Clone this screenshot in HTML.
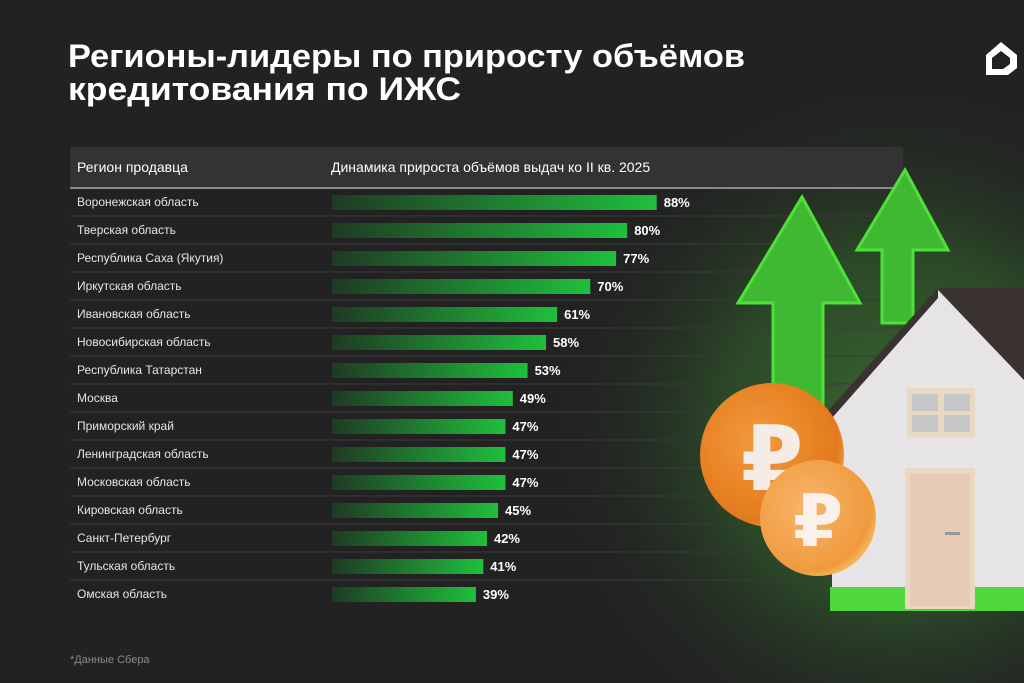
<!DOCTYPE html>
<html><head><meta charset="utf-8"><style>
html,body{margin:0;padding:0;background:#222;}
svg{display:block;font-family:"Liberation Sans","DejaVu Sans",sans-serif;}
</style></head><body>
<svg id="chart" width="1024" height="683" viewBox="0 0 1024 683" xmlns="http://www.w3.org/2000/svg">
<defs>
<radialGradient id="glow" cx="900" cy="430" r="360" gradientUnits="userSpaceOnUse">
<stop offset="0" stop-color="#3a6632"/><stop offset="0.5" stop-color="#2b4727"/><stop offset="1" stop-color="#222" stop-opacity="0"/>
</radialGradient>
<linearGradient id="barg" x1="0" x2="1" y1="0" y2="0">
<stop offset="0" stop-color="#1f3a24"/><stop offset="1" stop-color="#1fbf3c"/>
</linearGradient>
<radialGradient id="coin1" cx="0.4" cy="0.4" r="0.7"><stop offset="0" stop-color="#f39a3c"/><stop offset="0.8" stop-color="#e27a1c"/><stop offset="1" stop-color="#f6c45a"/></radialGradient>
<radialGradient id="coin2" cx="0.4" cy="0.4" r="0.7"><stop offset="0" stop-color="#f7b56a"/><stop offset="0.8" stop-color="#f09a3e"/><stop offset="1" stop-color="#f8d27a"/></radialGradient>
</defs>
<rect width="1024" height="683" fill="#222"/>
<rect width="1024" height="683" fill="url(#glow)"/>
<text x="68" y="67" font-size="32" font-weight="bold" fill="#fff" textLength="677" lengthAdjust="spacingAndGlyphs">Регионы-лидеры по приросту объёмов</text>
<text x="68" y="100" font-size="32" font-weight="bold" fill="#fff" textLength="393" lengthAdjust="spacingAndGlyphs">кредитования по ИЖС</text>
<g>
<path d="M1001 42 L1017 55 L1017 68 L1008 75 L986 75 L986 55 Z" fill="#fff"/>
<path d="M992 58 L1001 51 L1010 58 L1010 64 L1003 69 L992 69 Z" fill="#222"/>
</g>
<rect x="70" y="147" width="833" height="41" fill="#333"/>
<line x1="70" y1="188" x2="903" y2="188" stroke="#8a8a8a" stroke-width="2"/>
<text x="77" y="172" font-size="14" fill="#fff">Регион продавца</text>
<text x="331" y="172" font-size="14" fill="#fff">Динамика прироста объёмов выдач ко II кв. 2025</text>
<g id="rows"></g>
<g>
<path d="M905 170 L948 250 L913 250 L913 323 L882 323 L882 250 L857 250 Z" fill="#3fb832" stroke="#4fe03a" stroke-width="3"/>
<path d="M802 197 L860 303 L823 303 L823 420 L773 420 L773 303 L738 303 Z" fill="#3fb832" stroke="#4fe03a" stroke-width="3"/>
<path d="M938 288 L1024 288 L1024 385 Z" fill="#3a3230"/>
<path d="M938 290 L1024 380 L1024 610 L832 610 L832 413 Z" fill="#e6e4e4"/>
<path d="M938 288 L826 413 L832 418 L938 298 Z" fill="#3a3230"/>
<rect x="830" y="587" width="194" height="24" fill="#4fd83e"/>
<rect x="907" y="388" width="68" height="49" fill="#e8d8c4"/>
<rect x="912" y="394" width="26" height="17" fill="#c4c6c8"/><rect x="944" y="394" width="26" height="17" fill="#c4c6c8"/>
<rect x="912" y="415" width="26" height="17" fill="#c4c6c8"/><rect x="944" y="415" width="26" height="17" fill="#c4c6c8"/>
<rect x="905" y="468" width="70" height="141" fill="#e8d8c4"/>
<rect x="910" y="474" width="60" height="132" fill="#e6ccb6"/>
<rect x="945" y="532" width="15" height="3" fill="#999"/>
<circle cx="772" cy="455" r="72" fill="url(#coin1)"/>
<text x="772" y="490" font-size="90" font-weight="bold" fill="#f4ece6" text-anchor="middle">₽</text>
<circle cx="818" cy="518" r="58" fill="url(#coin2)"/>
<text x="818" y="546" font-size="72" font-weight="bold" fill="#faf2ea" text-anchor="middle">₽</text>
</g>
<text x="70" y="663" font-size="11" fill="#8a8a8a">*Данные Сбера</text>
</svg>
<script>
const regions = ["Воронежская область","Тверская область","Республика Саха (Якутия)","Иркутская область","Ивановская область","Новосибирская область","Республика Татарстан","Москва","Приморский край","Ленинградская область","Московская область","Кировская область","Санкт-Петербург","Тульская область","Омская область"];
const values = [88,80,77,70,61,58,53,49,47,47,47,45,42,41,39];
const valueLabels = ["88%","80%","77%","70%","61%","58%","53%","49%","47%","47%","47%","45%","42%","41%","39%"];
const NS = "http://www.w3.org/2000/svg";
const g = document.getElementById('rows');
const x0 = 332, pxPer = 3.69, rowTop = 188, rowH = 28;
function xScale(v){ return x0 + v*pxPer; }
function yRow(i){ return rowTop + i*rowH; }
regions.forEach((r,i)=>{
  const y = yRow(i);
  if(i>0){
    const ln = document.createElementNS(NS,'line');
    
    
    ln.setAttribute('x1',70); ln.setAttribute('x2',903);
    ln.setAttribute('y1',y); ln.setAttribute('y2',y);
    ln.setAttribute('stroke','#3a3a3a'); ln.setAttribute('stroke-width','1');
    g.appendChild(ln);
  }
  const t = document.createElementNS(NS,'text');
  
  
  t.setAttribute('x',77); t.setAttribute('y',y+18);
  t.setAttribute('font-size','12'); t.setAttribute('fill','#e6e6e6');
  t.textContent = r; g.appendChild(t);
  const b = document.createElementNS(NS,'rect');
  
  
  b.setAttribute('x',x0); b.setAttribute('y',y+7);
  b.setAttribute('width',xScale(values[i])-x0); b.setAttribute('height',15);
  b.setAttribute('fill','url(#barg)');
  g.appendChild(b);
  const v = document.createElementNS(NS,'text');
  
  
  v.setAttribute('x',xScale(values[i])+7); v.setAttribute('y',y+19);
  v.setAttribute('font-size','13'); v.setAttribute('font-weight','bold'); v.setAttribute('fill','#fff');
  v.textContent = valueLabels[i]; g.appendChild(v);
});
</script>
</body></html>
